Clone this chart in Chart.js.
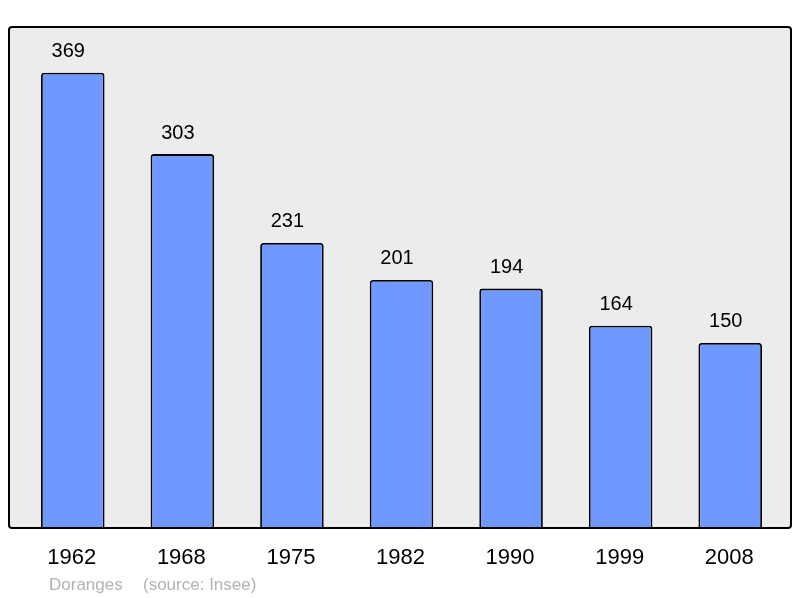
<!DOCTYPE html>
<html><head><meta charset="utf-8">
<script src="https://cdn.jsdelivr.net/npm/chart.js@4/dist/chart.umd.min.js"></script>
<style>html,body{margin:0;padding:0;background:#fff}#w{width:800px;height:598px;position:relative}</style>
</head><body><div id="w"><canvas id="c" width="800" height="598"></canvas></div>
<script>
const categories = ["1962","1968","1975","1982","1990","1999","2008"];
const population = [369,303,231,201,194,164,150];
const footerName = "Doranges";
const footerSource = "(source: Insee)";

const FONT = "'Liberation Sans', Arial, sans-serif";

const decor = {
  id: 'decor',
  beforeDatasetsDraw(chart) {
    const ctx = chart.ctx, a = chart.chartArea;
    const x0 = a.left - 9, x1 = a.right + 6, y0 = a.top, y1 = a.bottom;
    ctx.save();
    ctx.beginPath();
    ctx.roundRect(x0, y0, x1 - x0, y1 - y0, 3);
    ctx.fillStyle = '#ececec';
    ctx.fill();
    ctx.restore();
  },
  afterDatasetsDraw(chart) {
    const ctx = chart.ctx, a = chart.chartArea;
    const x0 = a.left - 9, x1 = a.right + 6, y0 = a.top, y1 = a.bottom;
    ctx.save();
    ctx.beginPath();
    ctx.roundRect(x0, y0, x1 - x0, y1 - y0, 3);
    ctx.lineWidth = 2;
    ctx.strokeStyle = '#000';
    ctx.stroke();
    // value labels
    const meta = chart.getDatasetMeta(0);
    ctx.fillStyle = '#000';
    ctx.font = '20px ' + FONT;
    ctx.textAlign = 'center';
    ctx.textBaseline = 'middle';
    meta.data.forEach((bar, i) => {
      ctx.fillText(String(population[i]), bar.x - 4.5, bar.y - 21);
    });
    // category labels
    const xs = chart.scales.x;
    ctx.font = '22px ' + FONT;
    categories.forEach((c, i) => {
      ctx.fillText(c, xs.getPixelForValue(i) - 1, a.bottom + 30);
    });
    // footer
    ctx.fillStyle = '#b3b3b3';
    ctx.font = '17px ' + FONT;
    ctx.textAlign = 'left';
    ctx.fillText(footerName, 49, 585);
    ctx.fillText(footerSource, 143, 585);
    ctx.restore();
  }
};

new Chart(document.getElementById('c'), {
  type: 'bar',
  data: {
    labels: categories,
    datasets: [{
      data: population,
      backgroundColor: '#7099ff',
      borderColor: '#000',
      borderWidth: 1.8,
      borderRadius: 3,
      borderSkipped: 'bottom',
      barPercentage: 0.58,
      categoryPercentage: 1
    }]
  },
  options: {
    responsive: false,
    animation: false,
    events: [],
    layout: { padding: { left: 18, right: 15, top: 27, bottom: 70 } },
    plugins: { legend: { display: false }, tooltip: { enabled: false } },
    scales: {
      x: { display: false },
      y: { display: false, min: 0, max: 406 }
    }
  },
  plugins: [decor]
});
</script>
</body></html>
